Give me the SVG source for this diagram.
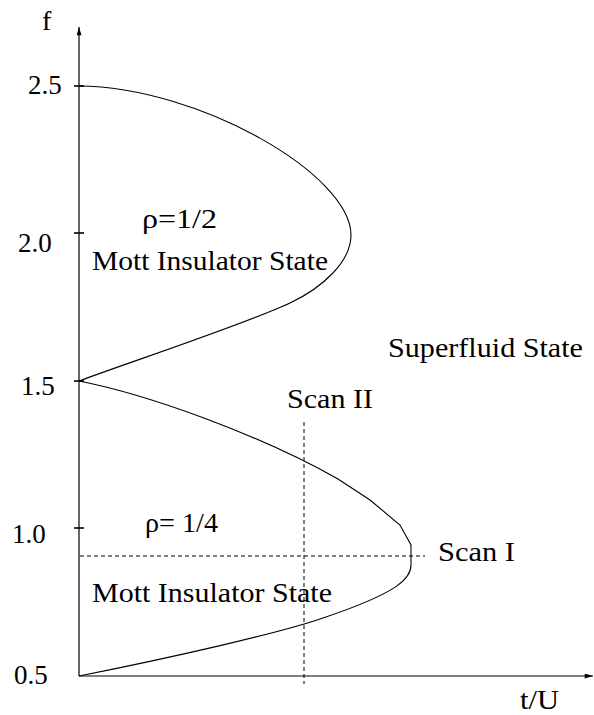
<svg xmlns="http://www.w3.org/2000/svg" width="594" height="715" viewBox="0 0 594 715">
<style>
text{font-family:"Liberation Serif","Times New Roman",serif;fill:#000;font-size:28px}
.tick{font-size:27px}
.curve{fill:none;stroke:#000;stroke-width:1.1}
.axis{fill:none;stroke:#000;stroke-width:1.2}
.tk{stroke:#000;stroke-width:1.6}
.dash{fill:none;stroke:#000;stroke-width:1;stroke-dasharray:4 3}
</style>
<defs>
<marker id="arr" viewBox="0 0 10 6" refX="10" refY="3" markerWidth="9" markerHeight="5" orient="auto" markerUnits="userSpaceOnUse">
<path d="M0,0 L10,3 L0,6 z" fill="#000"/>
</marker>
</defs>
<rect width="594" height="715" fill="#fff"/>
<g id="axes">
<line class="axis" x1="79" y1="676" x2="79" y2="27" marker-end="url(#arr)"/>
<line class="axis" x1="79" y1="676" x2="593" y2="676" marker-end="url(#arr)"/>
<line class="tk" x1="74" y1="86" x2="84" y2="86"/>
<line class="tk" x1="74" y1="233" x2="84" y2="233"/>
<line class="tk" x1="74" y1="381" x2="84" y2="381"/>
<line class="tk" x1="74" y1="528" x2="84" y2="528"/>
<text x="42" y="30">f</text>
<text class="tick" x="28" y="94">2.5</text>
<text class="tick" x="18" y="252">2.0</text>
<text class="tick" x="21" y="395">1.5</text>
<text class="tick" x="12" y="543">1.0</text>
<text class="tick" x="14" y="684">0.5</text>
<text x="520" y="709" textLength="39" lengthAdjust="spacingAndGlyphs">t/U</text>
</g>
<g id="connectors">
<path id="upper-lobe" class="curve" d="M79,86 C200,87 351,175 351,235 C351,262 322,288 290,303 C248,323 130,362 79,381"/>
<path id="lower-lobe" class="curve" d="M79,381 C150,395 260,435 338,479 L370,500 L400,525 L411,545 L411,565 C411,578 400,592 323,618 C280,633 170,658 79,676"/>
<line id="scan1-line" class="dash" x1="80" y1="556" x2="425" y2="556"/>
<line id="scan2-line" class="dash" x1="304" y1="422" x2="304" y2="684"/>
</g>
<g id="mott-half">
<text x="142" y="228" textLength="75" lengthAdjust="spacingAndGlyphs">ρ=1/2</text>
<text x="92" y="270" textLength="236" lengthAdjust="spacingAndGlyphs">Mott Insulator State</text>
</g>
<g id="superfluid">
<text x="388" y="357" textLength="195" lengthAdjust="spacingAndGlyphs">Superfluid State</text>
</g>
<g id="scan2">
<text x="287" y="408" textLength="86" lengthAdjust="spacingAndGlyphs">Scan II</text>
</g>
<g id="mott-quarter">
<text x="145" y="532" textLength="73" lengthAdjust="spacingAndGlyphs">ρ= 1/4</text>
<text x="92" y="602" textLength="240" lengthAdjust="spacingAndGlyphs">Mott Insulator State</text>
</g>
<g id="scan1">
<text x="438" y="561" textLength="77" lengthAdjust="spacingAndGlyphs">Scan I</text>
</g>
</svg>
